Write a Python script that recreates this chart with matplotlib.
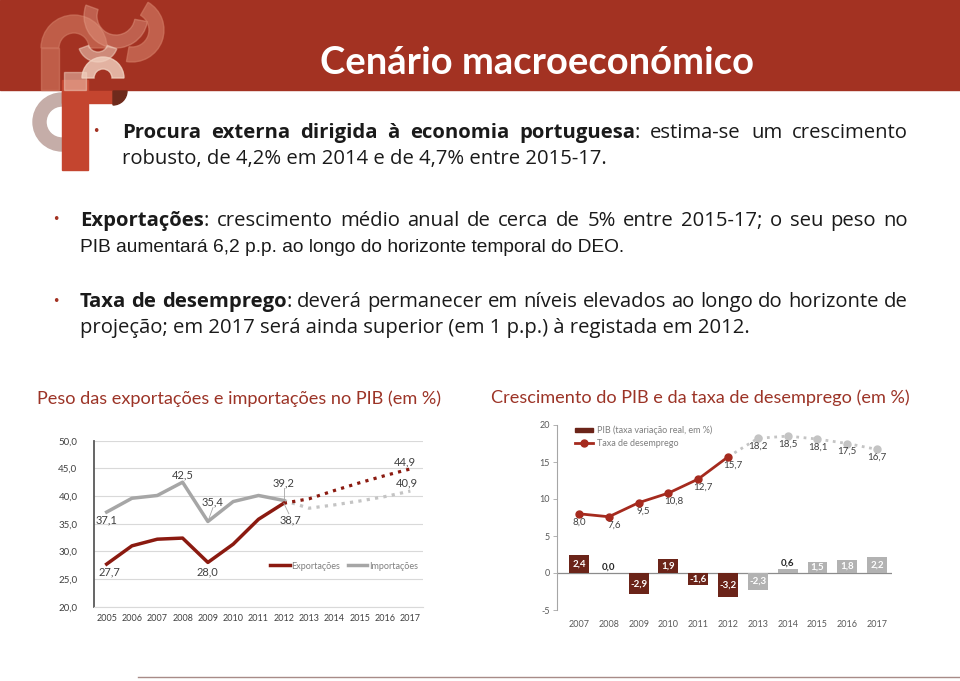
import matplotlib
matplotlib.use("Agg")
import matplotlib.pyplot as plt
from matplotlib.patches import Rectangle, Wedge, Patch
import numpy as np

# --- data ---
years_trade = list(range(2005, 2018))
exports = [27.7, 31.0, 32.2, 32.4, 28.0, 31.3, 35.8, 38.7, 39.5, 41.0, 42.4, 43.7, 44.9]
imports = [37.1, 39.6, 40.1, 42.5, 35.4, 39.0, 40.1, 39.2, 37.8, 38.4, 39.1, 39.9, 40.9]
last_obs_trade = 2012

years_macro = list(range(2007, 2018))
gdp_growth = [2.4, 0.0, -2.9, 1.9, -1.6, -3.2, -2.3, 0.6, 1.5, 1.8, 2.2]
unemployment = [8.0, 7.6, 9.5, 10.8, 12.7, 15.7, 18.2, 18.5, 18.1, 17.5, 16.7]
last_obs_macro = 2012

title = "Cenário macroeconómico"
title_left = "Peso das exportações e importações no PIB (em %)"
title_right = "Crescimento do PIB e da taxa de desemprego (em %)"

bullets = [
    [[("Procura externa dirigida à economia portuguesa", True), (": estima-se um crescimento", False)],
     [("robusto, de 4,2% em 2014 e de 4,7% entre 2015-17.", False)]],
    [[("Exportações", True), (": crescimento médio anual de cerca de 5% entre 2015-17; o seu peso no", False)],
     [("PIB aumentará 6,2 p.p. ao longo do horizonte temporal do DEO.", False)]],
    [[("Taxa de desemprego", True), (": deverá permanecer em níveis elevados ao longo do horizonte de", False)],
     [("projeção; em 2017 será ainda superior (em 1 p.p.) à registada em 2012.", False)]],
]

RED = "#A33222"
DARK_RED = "#8B1A10"
TXT = "#1A1A1A"
BODY = "Open Sans"
ARIAL = "Liberation Sans"
CHART = "Lato"

W, H = 960, 681
fig = plt.figure(figsize=(W / 100, H / 100), dpi=100)
bg = fig.add_axes([0, 0, 1, 1])
bg.set_xlim(0, W)
bg.set_ylim(H, 0)
bg.axis("off")
renderer = fig.canvas.get_renderer()


def fmt(v):
    return f"{v:.1f}".replace(".", ",")


def text_width(s, **kw):
    t = bg.text(0, 0, s, **kw)
    w = t.get_window_extent(renderer).width
    t.remove()
    return w


def fit_size(s, target, **kw):
    return 10 * target / text_width(s, fontsize=10, **kw)


def rich_line(pieces, x0, y, size, family, x1=None):
    words, cur = [], []
    for txt, bold in pieces:
        for i, part in enumerate(txt.split(" ")):
            if i > 0 and cur:
                words.append(cur)
                cur = []
            if part:
                cur.append((part, bold))
    if cur:
        words.append(cur)
    if x1 is None:
        # plain line: draw the runs as they are
        x = x0
        for txt, bold in pieces:
            t = bg.text(x, y, txt, fontsize=size, family=family, fontweight="bold" if bold else "normal",
                        color=TXT, ha="left", va="baseline")
            x += t.get_window_extent(renderer).width
        return
    widths = [[text_width(s, fontsize=size, family=family,
                          fontweight="bold" if b else "normal") for s, b in w] for w in words]
    total = sum(sum(w) for w in widths)
    gap = (x1 - x0 - total) / (len(words) - 1)
    x = x0
    for w, ws in zip(words, widths):
        for (s, b), wd in zip(w, ws):
            bg.text(x, y, s, fontsize=size, family=family, fontweight="bold" if b else "normal",
                    color=TXT, ha="left", va="baseline")
            x += wd
        x += gap


# --- header band and logo ---
bg.add_patch(Rectangle((0, 0), W, 90, color=RED, zorder=0))
salmon = "#D27A63"
cream = "#F2D3C2"
logo = [
    Wedge((74, 48), 33, 180, 360, width=18, color=salmon, alpha=0.6),
    Wedge((116, 16), 32, 10, 200, width=13, color="#E39A84", alpha=0.45),
    Wedge((132, 30), 32, -60, 100, width=15, color=salmon, alpha=0.65),
    Wedge((103, 78), 21, 180, 360, width=12, color=cream, alpha=0.8),
    Wedge((98, 42), 20, 20, 160, width=10, color=cream, alpha=0.55),
]
for p in logo:
    bg.add_patch(p)
bg.add_patch(Rectangle((41, 48), 18, 42, color=salmon, alpha=0.6))
bg.add_patch(Wedge((62, 122), 29, 90, 270, width=13, color="#C5ADA8"))
bg.add_patch(Rectangle((62, 80), 26, 90, color="#C4452F"))
bg.add_patch(Rectangle((62, 91), 51, 12, color="#C4452F"))
bg.add_patch(Wedge((113, 91), 14, 0, 90, color="#6E2A1C"))
bg.add_patch(Rectangle((64, 72), 22, 18, color=cream, alpha=0.5))

ts = fit_size(title, 435, family=CHART, fontweight="bold")
bg.text(320, 74, title, fontsize=ts, family=CHART, fontweight="bold", color="white",
        ha="left", va="baseline")

# --- bullets ---
bsize = fit_size(bullets[0][1][0][0], 486, family=BODY)
asize = fit_size(bullets[1][1][0][0], 545, family=ARIAL)
layout = [(122, 96, 138, BODY, BODY, bsize), (80, 56, 226, BODY, ARIAL, asize),
          (80, 56, 307, BODY, BODY, bsize)]
for (x0, bx, y, f1, f2, s2nd), lines in zip(layout, bullets):
    bg.text(bx, y - 6, "•", fontsize=9, color=RED, ha="center", va="center")
    rich_line(lines[0], x0, y, bsize, f1, x1=908)
    rich_line(lines[1], x0, y + 26, s2nd, f2)

# --- chart titles ---
s1 = fit_size(title_left, 405, family=CHART)
bg.text(37, 404, title_left, fontsize=s1, family=CHART, color="#9C3427", ha="left", va="baseline")
s2 = fit_size(title_right, 419, family=CHART)
bg.text(491, 403, title_right, fontsize=s2, family=CHART, color="#9C3427", ha="left", va="baseline")

bg.plot([138, 960], [677, 677], color="#A88B88", lw=1)

# --- left chart: exports / imports ---
axL = fig.add_axes([94 / W, 1 - 606.7 / H, 329 / W, 166 / H])
axL.set_xlim(2004.5, 2017.5)
axL.set_ylim(20, 50)
yt = np.arange(20, 51, 5)
axL.set_yticks(yt)
axL.set_yticklabels([fmt(v) for v in yt], fontsize=7, color="#404040", family=CHART)
axL.set_xticks(years_trade)
axL.set_xticklabels([str(y) for y in years_trade], fontsize=6.5, color="#404040", family=CHART)
axL.tick_params(axis="both", length=0)
axL.tick_params(axis="y", pad=12)
axL.tick_params(axis="x", pad=5)
axL.grid(axis="y", color="#D9D9D9", lw=0.8)
axL.set_axisbelow(True)
for s in ["top", "right"]:
    axL.spines[s].set_visible(False)
axL.spines["left"].set_color("#595959")
axL.spines["left"].set_linewidth(1.3)
axL.spines["bottom"].set_color("#D9D9D9")

k = years_trade.index(last_obs_trade)
axL.plot(years_trade[k:], imports[k:], color="#C4C4C4", lw=2.3, ls=":")
axL.plot(years_trade[k:], exports[k:], color=DARK_RED, lw=2.3, ls=":")
l_imp, = axL.plot(years_trade[:k + 1], imports[:k + 1], color="#A6A6A6", lw=2.5)
l_exp, = axL.plot(years_trade[:k + 1], exports[:k + 1], color=DARK_RED, lw=2.5)

lab_kw = dict(fontsize=8, color="#404040", family=CHART, ha="center", va="center")
# (series, year, text x, text y)
left_labels = [
    (imports, 2005, 2005.0, 35.7), (exports, 2005, 2005.1, 26.2),
    (imports, 2008, 2008.0, 43.8), (imports, 2009, 2009.2, 39.0),
    (exports, 2009, 2009.0, 26.2), (imports, 2012, 2012.0, 42.4),
    (exports, 2012, 2012.25, 35.7), (exports, 2017, 2016.8, 46.1),
    (imports, 2017, 2016.85, 42.4),
]
for series, yr, tx, ty in left_labels:
    v = series[years_trade.index(yr)]
    axL.text(tx, ty, fmt(v), **lab_kw)
for yr, y0, y1, x1 in [(2009, 35.4, 37.9, 2009.2), (2012, 39.2, 41.4, 2012.0), (2012, 38.7, 36.8, 2012.2)]:
    axL.plot([yr, x1], [y0, y1], color="#A6A6A6", lw=0.6)

axL.legend([l_exp, l_imp], ["Exportações", "Importações"], ncol=2, frameon=False,
           loc="center", bbox_to_anchor=(0.76, 0.245), labelcolor="#7F7F7F",
           handlelength=2.2, handletextpad=0.2, columnspacing=0.8,
           prop={"family": CHART, "size": 6.5})

# --- right chart: GDP growth and unemployment ---
axR = fig.add_axes([557 / W, 1 - 610 / H, 335 / W, 185 / H])
axR.set_xlim(2006.26, 2017.5)
axR.set_ylim(-5, 20)
j = years_macro.index(last_obs_macro)
bar_cols = ["#6B2419" if y <= last_obs_macro else "#B2B2B2" for y in years_macro]
axR.bar(years_macro, gdp_growth, width=0.67, color=bar_cols, zorder=2)
axR.axhline(0, color="#8C8C8C", lw=0.9, zorder=1)
for y, v in zip(years_macro, gdp_growth):
    if abs(v) < 1:
        axR.annotate(fmt(v), (y, v), xytext=(0, 1), textcoords="offset pixels", ha="center",
                     va="bottom", fontsize=7, fontweight="bold", color="#262626", family=CHART)
    else:
        axR.text(y, v / 2, fmt(v), ha="center", va="center", fontsize=7,
                 fontweight="bold", color="white", family=CHART, zorder=3)

axR.plot(years_macro[j:], unemployment[j:], color="#C4C4C4", lw=2, ls=":", zorder=3)
axR.plot(years_macro[j + 1:], unemployment[j + 1:], "o", color="#C4C4C4", ms=5, zorder=3)
l_un, = axR.plot(years_macro[:j + 1], unemployment[:j + 1], color="#A52A1E", lw=2,
                 marker="o", ms=5, zorder=4)
for i, (y, v) in enumerate(zip(years_macro, unemployment)):
    dx = 5 if 0 < i <= j else 0
    axR.annotate(fmt(v), (y, v), xytext=(dx, -8), textcoords="offset pixels", ha="center",
                 va="center", fontsize=7, color="#404040", family=CHART)

axR.set_yticks(np.arange(-5, 21, 5))
axR.set_yticklabels([str(v) for v in range(-5, 21, 5)], fontsize=6.5, color="#595959", family=CHART)
axR.set_xticks(years_macro)
axR.set_xticklabels([str(y) for y in years_macro], fontsize=6.5, color="#595959", family=CHART)
axR.tick_params(axis="x", length=0, pad=7)
axR.tick_params(axis="y", length=3, width=0.6, color="#A6A6A6", pad=2)
for s in ["top", "right", "bottom"]:
    axR.spines[s].set_visible(False)
axR.spines["left"].set_color("#A6A6A6")
axR.spines["left"].set_linewidth(0.8)

axR.legend([Patch(color="#6B2419"), l_un], ["PIB (taxa variação real, em %)", "Taxa de desemprego"],
           loc="upper left", bbox_to_anchor=(0.03, 1.04), frameon=False, labelcolor="#7F7F7F",
           handlelength=2.0, handleheight=0.35, handletextpad=0.4, labelspacing=0.4,
           prop={"family": CHART, "size": 6.5})

fig.savefig("out.png", dpi=100)
